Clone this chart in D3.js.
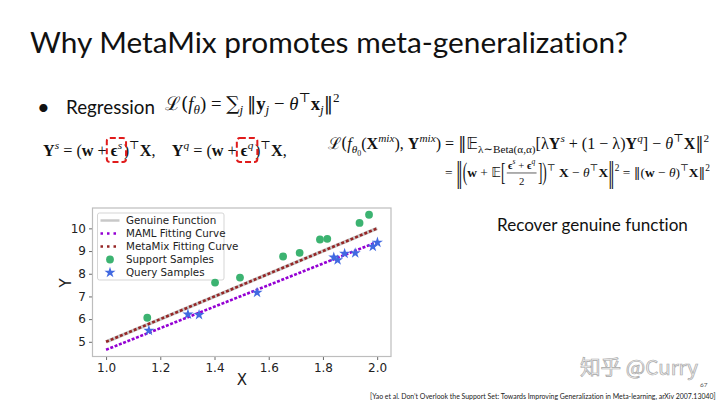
<!DOCTYPE html>
<html><head><meta charset="utf-8">
<script src="https://cdn.jsdelivr.net/npm/d3@7"></script>
<style>body{margin:0;background:#fff} text{white-space:pre;font-variant-ligatures:none}</style>
</head><body>
<svg id="s" width="720" height="405"></svg>
<script>
// ---- data ----
const supportX = [1.152, 1.402, 1.494, 1.653, 1.714, 1.789, 1.816, 1.935, 1.970];
const supportY = [6.06, 7.61, 7.83, 8.76, 8.92, 9.51, 9.54, 10.24, 10.60];
const queryX = [1.158, 1.302, 1.343, 1.557, 1.840, 1.854, 1.880, 1.919, 1.984, 2.001];
const queryY = [5.50, 6.21, 6.19, 7.17, 8.72, 8.60, 8.89, 8.91, 9.20, 9.38];
const lineX = [1.0, 2.0];
const genuineY = [5.0, 10.0];
const mamlY = [4.65, 9.40];
const metamixY = [5.0, 10.0];
const xTicks = [1.0, 1.2, 1.4, 1.6, 1.8, 2.0];
const yTicks = [5, 6, 7, 8, 9, 10];
const legendLabels = ["Genuine Function", "MAML Fitting Curve", "MetaMix Fitting Curve", "Support Samples", "Query Samples"];
const titleText = "Why MetaMix promotes meta-generalization?";
const bulletText = "Regression";
const sideText = "Recover genuine function";
const citeText = "[Yao et al. Don\u2019t Overlook the Support Set: Towards Improving Generalization in Meta-learning, arXiv 2007.13040]";
const watermark = "知乎 @Curry";
const pageNo = "67";

const svg = d3.select("#s");
const SANS = "Lato, 'Open Sans', sans-serif";
const MATHF = "'Liberation Serif', 'DejaVu Serif', serif";
const PLOTF = "'DejaVu Sans', sans-serif";

function fitText(sel, target) {
  const fs = +sel.attr("font-size");
  const w = sel.node().getComputedTextLength();
  sel.attr("font-size", fs * target / w);
}

// ---- slide texts ----
const title = svg.append("text").attr("x", 30).attr("y", 53).attr("font-family", SANS)
  .attr("font-size", 32).attr("fill", "#111").text(titleText);
fitText(title, 598);

svg.append("text").attr("x", 37).attr("y", 115).attr("font-family", SANS).attr("font-size", 22).attr("fill", "#111").text("•");
const reg = svg.append("text").attr("x", 66).attr("y", 114).attr("font-family", SANS).attr("font-size", 20).attr("fill", "#111").text(bulletText);
fitText(reg, 89);

const side = svg.append("text").attr("x", 497).attr("y", 231).attr("font-family", SANS).attr("font-size", 17).attr("fill", "#111").text(sideText);
fitText(side, 191);

const cite = svg.append("text").attr("x", 370).attr("y", 399).attr("font-family", SANS).attr("font-size", 7.5).attr("fill", "#222").text(citeText);
fitText(cite, 346);

const wm = svg.append("text").attr("x", 580).attr("y", 375).attr("font-family", "'Noto Sans CJK SC', sans-serif")
  .attr("font-size", 21).attr("fill", "#f2f2f2").attr("stroke", "#a8a8a8").attr("stroke-width", 0.7).text(watermark);
fitText(wm, 118);
svg.append("text").attr("x", 700).attr("y", 387).attr("font-family", SANS).attr("font-size", 6.5).attr("fill", "#555").text(pageNo);

// ---- math renderer ----
function renderMath(g, x0, y0, segs, fs) {
  let cx = x0;
  const marks = {};
  let eqX = null;
  segs.forEach(s => {
    if (s.sp !== undefined) { cx += s.sp * fs; return; }
    if (s.frac) {
      const gn = g.append("g"), gd = g.append("g");
      const fsz = fs * 0.8;
      const rn = renderMath(gn, 0, 0, s.frac[0], fsz);
      const rd = renderMath(gd, 0, 0, s.frac[1], fsz);
      const w = Math.max(rn.end, rd.end) + fs * 0.2;
      gn.attr("transform", `translate(${cx + (w - rn.end) / 2},${y0 - fs * 0.62})`);
      gd.attr("transform", `translate(${cx + (w - rd.end) / 2},${y0 + fs * 0.62})`);
      g.append("line").attr("x1", cx).attr("x2", cx + w).attr("y1", y0 - fs * 0.3).attr("y2", y0 - fs * 0.3)
        .attr("stroke", "#111").attr("stroke-width", fs * 0.05);
      cx += w;
      return;
    }
    let size = fs, dy = 0;
    if (s.sub) { size = fs * Math.pow(0.7, s.sub); dy = fs * 0.22 * s.sub; }
    if (s.sup) { size = fs * 0.7; dy = -fs * 0.42; }
    const t = g.append("text").attr("x", cx).attr("y", y0 + dy)
      .attr("font-family", s.f || MATHF).attr("font-size", size).attr("fill", "#111")
      .attr("font-weight", s.b ? "bold" : "normal").attr("font-style", s.i ? "italic" : "normal").text(s.t);
    if (s.scale) {
      const cy = y0 - fs * 0.32;
      t.attr("transform", `translate(0,${cy}) scale(1,${s.scale}) translate(0,${-cy})`);
    }
    const w = t.node().getComputedTextLength();
    if (s.mark) {
      const m = marks[s.mark] || (marks[s.mark] = [Infinity, -Infinity]);
      m[0] = Math.min(m[0], cx); m[1] = Math.max(m[1], cx + w);
    }
    if (s.eq && eqX === null) eqX = cx;
    cx += w;
  });
  return { end: cx - x0, marks, eqX };
}
function renderFit(g, x0, y0, segs, target, fs0) {
  const tmp = g.append("g");
  const r0 = renderMath(tmp, x0, y0, segs, fs0);
  tmp.remove();
  const fs = fs0 * target / r0.end;
  const r = renderMath(g, x0, y0, segs, fs);
  r.fs = fs;
  return r;
}

// Regression loss
const mg = svg.append("g");
renderFit(mg, 165, 110, [
  { t: "ℒ(", f: "'DejaVu Serif', serif" }, { t: "f", i: 1 }, { t: "θ", i: 1, sub: 1 }, { t: ") = " }, { t: "∑", f: "'DejaVu Serif', serif" }, { t: "j", i: 1, sub: 1 },
  { sp: 0.2 }, { t: "‖", f: "'DejaVu Serif', serif" }, { t: "y", b: 1 }, { t: "j", i: 1, sub: 1 }, { t: " − " }, { t: "θ", i: 1 }, { t: "⊤", sup: 1 },
  { t: "x", b: 1 }, { t: "j", i: 1, sub: 1 }, { t: "‖", f: "'DejaVu Serif', serif" }, { t: "2", sup: 1 }
], 175, 15);

// Y^s, Y^q
const eg = svg.append("g");
const er = renderFit(eg, 43, 156, [
  { t: "Y", b: 1 }, { t: "s", i: 1, sup: 1 }, { t: " = (" }, { t: "w", b: 1 }, { t: " + " },
  { t: "ϵ", b: 1, mark: "a" }, { t: "s", i: 1, sup: 1, mark: "a" }, { sp: 0.1 }, { t: ")" }, { t: "⊤", sup: 1 }, { t: "X", b: 1 }, { t: ",    " },
  { t: "Y", b: 1 }, { t: "q", i: 1, sup: 1 }, { t: " = (" }, { t: "w", b: 1 }, { t: " + " },
  { t: "ϵ", b: 1, mark: "b" }, { t: "q", i: 1, sup: 1, mark: "b" }, { sp: 0.1 }, { t: ")" }, { t: "⊤", sup: 1 }, { t: "X", b: 1 }, { t: "," }
], 244, 18);
Object.values(er.marks).forEach(m => {
  eg.append("rect").attr("x", m[0] - 4).attr("y", 138).attr("width", m[1] - m[0] + 8).attr("height", 24)
    .attr("rx", 3).attr("fill", "none").attr("stroke", "#e01b1b").attr("stroke-width", 2).attr("stroke-dasharray", "6,3");
});

// Mixed loss
const DV = "'DejaVu Serif', serif";
const rg = svg.append("g");
const r1 = renderFit(rg, 328, 149, [
  { t: "ℒ(", f: DV }, { t: "f", i: 1 }, { t: "θ", i: 1, sub: 1 }, { t: "0", sub: 2 }, { t: "(" }, { t: "X", b: 1 }, { t: "mix", i: 1, sup: 1 },
  { t: "), " }, { t: "Y", b: 1 }, { t: "mix", i: 1, sup: 1 }, { t: ") " }, { t: "=", eq: 1 }, { t: " " }, { t: "‖", f: DV },
  { t: "𝔼", f: "'DejaVu Sans', sans-serif" }, { t: "λ∼Beta(α,α)", sub: 1 }, { t: "[λ" }, { t: "Y", b: 1 }, { t: "s", i: 1, sup: 1 },
  { t: " + (1 − λ)" }, { t: "Y", b: 1 }, { t: "q", i: 1, sup: 1 }, { t: "] − " }, { t: "θ", i: 1 }, { t: "⊤", sup: 1 },
  { t: "X", b: 1 }, { t: "‖", f: DV }, { t: "2", sup: 1 }
], 382, 13);
renderFit(rg, r1.eqX, 177, [
  { t: "= " }, { t: "‖", scale: 2.1, f: DV }, { t: "(", scale: 1.8 }, { t: "w", b: 1 }, { t: " + " },
  { t: "𝔼", f: "'DejaVu Sans', sans-serif" }, { t: "[", scale: 1.8 }, { sp: 0.1 },
  { frac: [[{ t: "ϵ", b: 1 }, { t: "s", i: 1, sup: 1 }, { t: " + " }, { t: "ϵ", b: 1 }, { t: "q", i: 1, sup: 1 }], [{ t: "2" }]] },
  { sp: 0.1 }, { t: "]", scale: 1.8 }, { t: ")", scale: 1.8 }, { t: "⊤", sup: 1 }, { t: " " }, { t: "X", b: 1 }, { t: " − " },
  { t: "θ", i: 1 }, { t: "⊤", sup: 1 }, { t: "X", b: 1 }, { t: "‖", scale: 2.1, f: DV }, { t: "2", sup: 1 }, { t: " = " }, { t: "‖", f: DV }, { t: "(" },
  { t: "w", b: 1 }, { t: " − " }, { t: "θ", i: 1 }, { t: ")" }, { t: "⊤", sup: 1 }, { t: "X", b: 1 }, { t: "‖", f: DV }, { t: "2", sup: 1 }
], 710 - r1.eqX, r1.fs);

// ---- chart ----
const allX = lineX.concat(supportX, queryX);
const allY = mamlY.concat(metamixY, genuineY, supportY, queryY);
const [x0, x1] = d3.extent(allX), [y0, y1] = d3.extent(allY);
const px = (x1 - x0) * 0.05, py = (y1 - y0) * 0.05;
const L = 92.5, R = 391, T = 208, B = 356.5;
const x = d3.scaleLinear().domain([x0 - px, x1 + px]).range([L, R]);
const y = d3.scaleLinear().domain([y0 - py, y1 + py]).range([B, T]);

const cg = svg.append("g");
const xa = cg.append("g").attr("transform", `translate(0,${B})`)
  .call(d3.axisBottom(x).tickValues(xTicks).tickFormat(d3.format(".1f")).tickSize(3.5).tickPadding(3));
const ya = cg.append("g").attr("transform", `translate(${L},0)`)
  .call(d3.axisLeft(y).tickValues(yTicks).tickFormat(d3.format("d")).tickSize(3.5).tickPadding(3));
[xa, ya].forEach(a => {
  a.select(".domain").remove();
  a.selectAll(".tick line").attr("stroke", "#444").attr("stroke-width", 0.8);
  a.selectAll(".tick text").attr("font-family", PLOTF).attr("font-size", 12).attr("fill", "#222");
});
cg.append("rect").attr("x", L).attr("y", T).attr("width", R - L).attr("height", B - T)
  .attr("fill", "none").attr("stroke", "#bdbdbd").attr("stroke-width", 1.2);

cg.append("text").attr("x", 242).attr("y", 385).attr("text-anchor", "middle").attr("font-family", PLOTF).attr("font-size", 15).attr("fill", "#222").text("X");
cg.append("text").attr("transform", "translate(71,283) rotate(-90)").attr("text-anchor", "middle").attr("font-family", PLOTF).attr("font-size", 15).attr("fill", "#222").text("Y");

const line = d3.line().x(d => x(d[0])).y(d => y(d[1]));
const C = { gen: "#c8c8c8", maml: "#9400d3", mm: "#962626", sup: "#3cb371", qry: "#4169e1" };
cg.append("path").attr("d", line(lineX.map((v, i) => [v, genuineY[i]]))).attr("stroke", C.gen).attr("stroke-width", 3.5).attr("fill", "none");
cg.append("path").attr("d", line(lineX.map((v, i) => [v, metamixY[i]]))).attr("stroke", C.mm).attr("stroke-width", 2.6).attr("stroke-dasharray", "3,2").attr("fill", "none");
cg.append("path").attr("d", line(lineX.map((v, i) => [v, mamlY[i]]))).attr("stroke", C.maml).attr("stroke-width", 2.6).attr("stroke-dasharray", "3,1.6").attr("fill", "none");

// legend
const star = d3.symbol(d3.symbolStar, 38);
const lg = cg.append("g");
lg.append("rect").attr("x", 97.5).attr("y", 213).attr("width", 126.5).attr("height", 67).attr("rx", 2)
  .attr("fill", "#fff").attr("fill-opacity", 0.85).attr("stroke", "#d0d0d0").attr("stroke-width", 0.9);
legendLabels.forEach((lab, i) => {
  const yy = 220.5 + i * 13;
  if (i === 0) lg.append("line").attr("x1", 100.5).attr("x2", 119.5).attr("y1", yy).attr("y2", yy).attr("stroke", C.gen).attr("stroke-width", 2.5);
  if (i === 1 || i === 2) lg.append("line").attr("x1", 100.5).attr("x2", 119.5).attr("y1", yy).attr("y2", yy)
    .attr("stroke", i === 1 ? C.maml : C.mm).attr("stroke-width", 2.5).attr("stroke-dasharray", "2.5,4");
  if (i === 3) lg.append("circle").attr("cx", 110).attr("cy", yy).attr("r", 3.9).attr("fill", C.sup);
  if (i === 4) lg.append("path").attr("d", star).attr("transform", `translate(110,${yy})`).attr("fill", C.qry);
  lg.append("text").attr("x", 126).attr("y", yy + 3.8).attr("font-family", PLOTF).attr("font-size", 10.3).attr("fill", "#222").text(lab);
});

cg.selectAll(".sup").data(supportX.map((v, i) => [v, supportY[i]])).join("circle")
  .attr("cx", d => x(d[0])).attr("cy", d => y(d[1])).attr("r", 3.9).attr("fill", C.sup);
cg.selectAll(".qry").data(queryX.map((v, i) => [v, queryY[i]])).join("path")
  .attr("d", star).attr("transform", d => `translate(${x(d[0])},${y(d[1])})`).attr("fill", C.qry);
</script>
</body></html>
